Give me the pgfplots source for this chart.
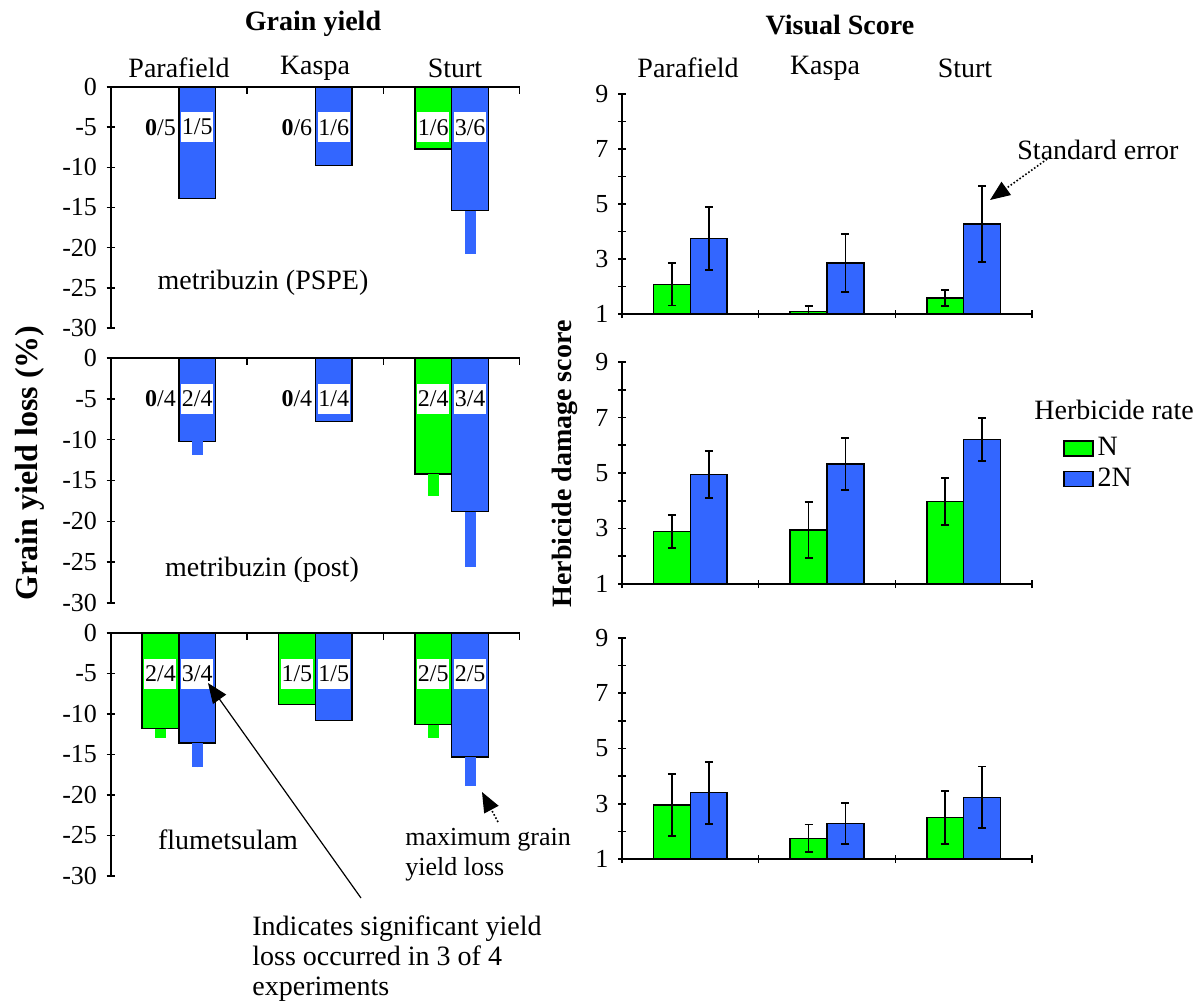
\documentclass[border=0pt]{standalone}
\usepackage{fontspec}
\setmainfont{Liberation Serif}
\usepackage{pgfplots}
\pgfplotsset{compat=1.18}
\usetikzlibrary{arrows.meta}
\definecolor{gN}{RGB}{0,255,0}
\definecolor{bN}{RGB}{51,102,255}
\pgfplotsset{
  common/.style={scale only axis, xmin=-0.5, xmax=2.5, axis on top,
    axis line style={-, line width=0.8pt, black},
    tick style={line width=0.8pt, black},
    tick label style={font=\fontsize{13}{13}\selectfont},
    major tick length=4pt, minor tick length=4pt, tick align=outside},
  leftpanel/.style={common, width=204.6pt, ymin=-30, ymax=0,
    axis x line=top, axis y line=left, axis line style={-},
    xtick=\empty, ytick={-30,-25,-20,-15,-10,-5,0},
    yticklabels={-30,-25,-20,-15,-10,-5,0}},
  rightpanel/.style={common, width=205pt, ymin=1, ymax=9,
    axis x line=bottom, axis y line=left, axis line style={-},
    xtick={-0.5,0.5,1.5,2.5}, xticklabels={},
    ytick={1,3,5,7,9}, yticklabels={1,3,5,7,9}, minor ytick={2,4,6,8}},
  lbar/.style={ybar, bar width=0.27, bar shift=0, fill=#1, draw=black, line width=0.75pt,
    error bars/.cd, y dir=minus, y explicit, error mark=none,
    error bar style={line width=5.5pt, draw=#1}},
  rbar/.style={ybar, bar width=0.27, bar shift=0, fill=#1, draw=black, line width=0.75pt,
    legend image code/.code={\draw[fill=#1, draw=black, line width=0.75pt] (0pt,-3.75pt) rectangle (14.5pt,3.75pt);},
    error bars/.cd, y dir=both, y explicit,
    error bar style={line width=0.75pt, black},
    error mark=|,
    error mark options={black, mark size=2pt, line width=0.9pt}},
}
\tikzset{
  frac/.style={fill=white, inner sep=0pt, minimum width=16pt, minimum height=15pt, font=\fontsize{12}{12}\selectfont},
  fracz/.style={inner sep=0pt, font=\fontsize{12}{12}\selectfont},
}
\begin{document}
\fontsize{14}{16}\selectfont
\begin{tikzpicture}
\useasboundingbox (0,0) rectangle (600pt,-501.5pt);

% ---------- Left top: metribuzin (PSPE)  (N at x-0.135, 2N at x+0.135)
\begin{axis}[leftpanel, height=120.5pt, at={(55.35pt,-43.5pt)}, anchor=north west]
\addplot[lbar=gN] coordinates {(-0.135,0) -= (0,0) (0.865,0) -= (0,0) (1.865,-7.7) -= (0,0)};
\addplot[lbar=bN] coordinates {(0.135,-13.9) -= (0,0) (1.135,-9.8) -= (0,0) (2.135,-15.4) -= (0,5.4)};
\node[fracz] at (axis cs:-0.135,-5) {\textbf{0}/5};
\node[fracz] at (axis cs:0.865,-5) {\textbf{0}/6};
\node[frac] at (axis cs:1.865,-5) {1/6};
\node[frac] at (axis cs:0.135,-5) {1/5};
\node[frac] at (axis cs:1.135,-5) {1/6};
\node[frac] at (axis cs:2.135,-5) {3/6};
\draw[line width=0.8pt] (axis cs:0.5,0) -- ++(0pt,-3.5pt);
\draw[line width=0.8pt] (axis cs:1.5,0) -- ++(0pt,-3.5pt);
\draw[line width=0.8pt] (axis cs:2.5,0) -- ++(0pt,-3.5pt);
\end{axis}

% ---------- Left middle: metribuzin (post)
\begin{axis}[leftpanel, height=122.5pt, at={(55.35pt,-179pt)}, anchor=north west]
\addplot[lbar=gN] coordinates {(-0.135,0) -= (0,0) (0.865,0) -= (0,0) (1.865,-14.2) -= (0,2.7)};
\addplot[lbar=bN] coordinates {(0.135,-10.2) -= (0,1.7) (1.135,-7.8) -= (0,0) (2.135,-18.8) -= (0,6.8)};
\node[fracz] at (axis cs:-0.135,-5) {\textbf{0}/4};
\node[fracz] at (axis cs:0.865,-5) {\textbf{0}/4};
\node[frac] at (axis cs:1.865,-5) {2/4};
\node[frac] at (axis cs:0.135,-5) {2/4};
\node[frac] at (axis cs:1.135,-5) {1/4};
\node[frac] at (axis cs:2.135,-5) {3/4};
\draw[line width=0.8pt] (axis cs:0.5,0) -- ++(0pt,-3.5pt);
\draw[line width=0.8pt] (axis cs:1.5,0) -- ++(0pt,-3.5pt);
\draw[line width=0.8pt] (axis cs:2.5,0) -- ++(0pt,-3.5pt);
\end{axis}

% ---------- Left bottom: flumetsulam
\begin{axis}[leftpanel, height=121.5pt, at={(55.35pt,-316.5pt)}, anchor=north west]
\addplot[lbar=gN] coordinates {(-0.135,-11.8) -= (0,1.1) (0.865,-8.8) -= (0,0) (1.865,-11.3) -= (0,1.6)};
\addplot[lbar=bN] coordinates {(0.135,-13.6) -= (0,3.0) (1.135,-10.8) -= (0,0) (2.135,-15.3) -= (0,3.6)};
\node[frac] at (axis cs:-0.135,-5) {2/4};
\node[frac] at (axis cs:0.865,-5) {1/5};
\node[frac] at (axis cs:1.865,-5) {2/5};
\node[frac] at (axis cs:0.135,-5) {3/4};
\node[frac] at (axis cs:1.135,-5) {1/5};
\node[frac] at (axis cs:2.135,-5) {2/5};
\draw[line width=0.8pt] (axis cs:0.5,0) -- ++(0pt,-3.5pt);
\draw[line width=0.8pt] (axis cs:1.5,0) -- ++(0pt,-3.5pt);
\draw[line width=0.8pt] (axis cs:2.5,0) -- ++(0pt,-3.5pt);
\end{axis}

% ---------- Right top
\begin{axis}[rightpanel, height=110pt, at={(311pt,-47pt)}, anchor=north west]
\addplot[rbar=gN] coordinates {(-0.135,2.08) +- (0,0.77) (0.865,1.1) +- (0,0.2) (1.865,1.58) +- (0,0.3)};
\addplot[rbar=bN] coordinates {(0.135,3.75) +- (0,1.15) (1.135,2.85) +- (0,1.05) (2.135,4.27) +- (0,1.38)};
\end{axis}

% ---------- Right middle (with legend)
\begin{axis}[rightpanel, height=111pt, at={(311pt,-181pt)}, anchor=north west,
  legend style={at={(1.06,0.70)}, anchor=north west, draw=none, fill=none,
    font=\fontsize{14}{14}\selectfont, row sep=0pt},
  legend cell align=left]
\addplot[rbar=gN] coordinates {(-0.135,2.9) +- (0,0.6) (0.865,2.95) +- (0,1.0) (1.865,3.97) +- (0,0.85)};
\addplot[rbar=bN] coordinates {(0.135,4.95) +- (0,0.85) (1.135,5.32) +- (0,0.93) (2.135,6.2) +- (0,0.78)};
\legend{N,2N}
\end{axis}

% ---------- Right bottom
\begin{axis}[rightpanel, height=110.5pt, at={(311pt,-319pt)}, anchor=north west]
\addplot[rbar=gN] coordinates {(-0.135,2.95) +- (0,1.12) (0.865,1.75) +- (0,0.5) (1.865,2.5) +- (0,0.97)};
\addplot[rbar=bN] coordinates {(0.135,3.4) +- (0,1.12) (1.135,2.28) +- (0,0.75) (2.135,3.23) +- (0,1.12)};
\end{axis}

% ---------- Annotations (pixel coordinates)
\begin{scope}[x=0.5pt, y=-0.5pt]
\node[font=\bfseries\fontsize{14}{14}\selectfont] at (313,24) {Grain yield};
\node[font=\bfseries\fontsize{14}{14}\selectfont] at (840,25) {Visual Score};
\node at (179,68) {Parafield};
\node at (315,68) {Kaspa};
\node at (455,68) {Sturt};
\node at (688,68) {Parafield};
\node at (825,68) {Kaspa};
\node at (965,68) {Sturt};
\node[rotate=90, font=\bfseries\fontsize{16}{16}\selectfont] at (30,463) {Grain yield loss (\%)};
\node[rotate=90, font=\bfseries\fontsize{14}{14}\selectfont] at (565,464) {Herbicide damage score};
\node at (263,283) {metribuzin (PSPE)};
\node at (262,570) {metribuzin (post)};
\node at (228,840) {flumetsulam};
\node[anchor=north west, align=left, inner sep=0pt, font=\fontsize{13}{15}\selectfont] at (405,828) {maximum grain\\yield loss};
\node[anchor=north west, align=left, inner sep=0pt, font=\fontsize{14}{15}\selectfont] at (252,915) {Indicates significant yield\\loss occurred in 3 of 4\\experiments};
\draw[line width=0.6pt, -{Triangle[length=10pt,width=8pt]}] (361,898) -- (208,683);
\draw[line width=0.8pt, densely dotted, -{Triangle[length=10pt,width=8pt]}] (498,822) -- (482,792);
\node[anchor=west, inner sep=0pt] at (1017,150) {Standard error};
\draw[line width=0.8pt, densely dotted, -{Triangle[length=10pt,width=8pt]}] (1050,157) -- (990,200);
\node[anchor=west, inner sep=0pt] at (1034,410) {Herbicide rate};
\end{scope}
\end{tikzpicture}
\end{document}
